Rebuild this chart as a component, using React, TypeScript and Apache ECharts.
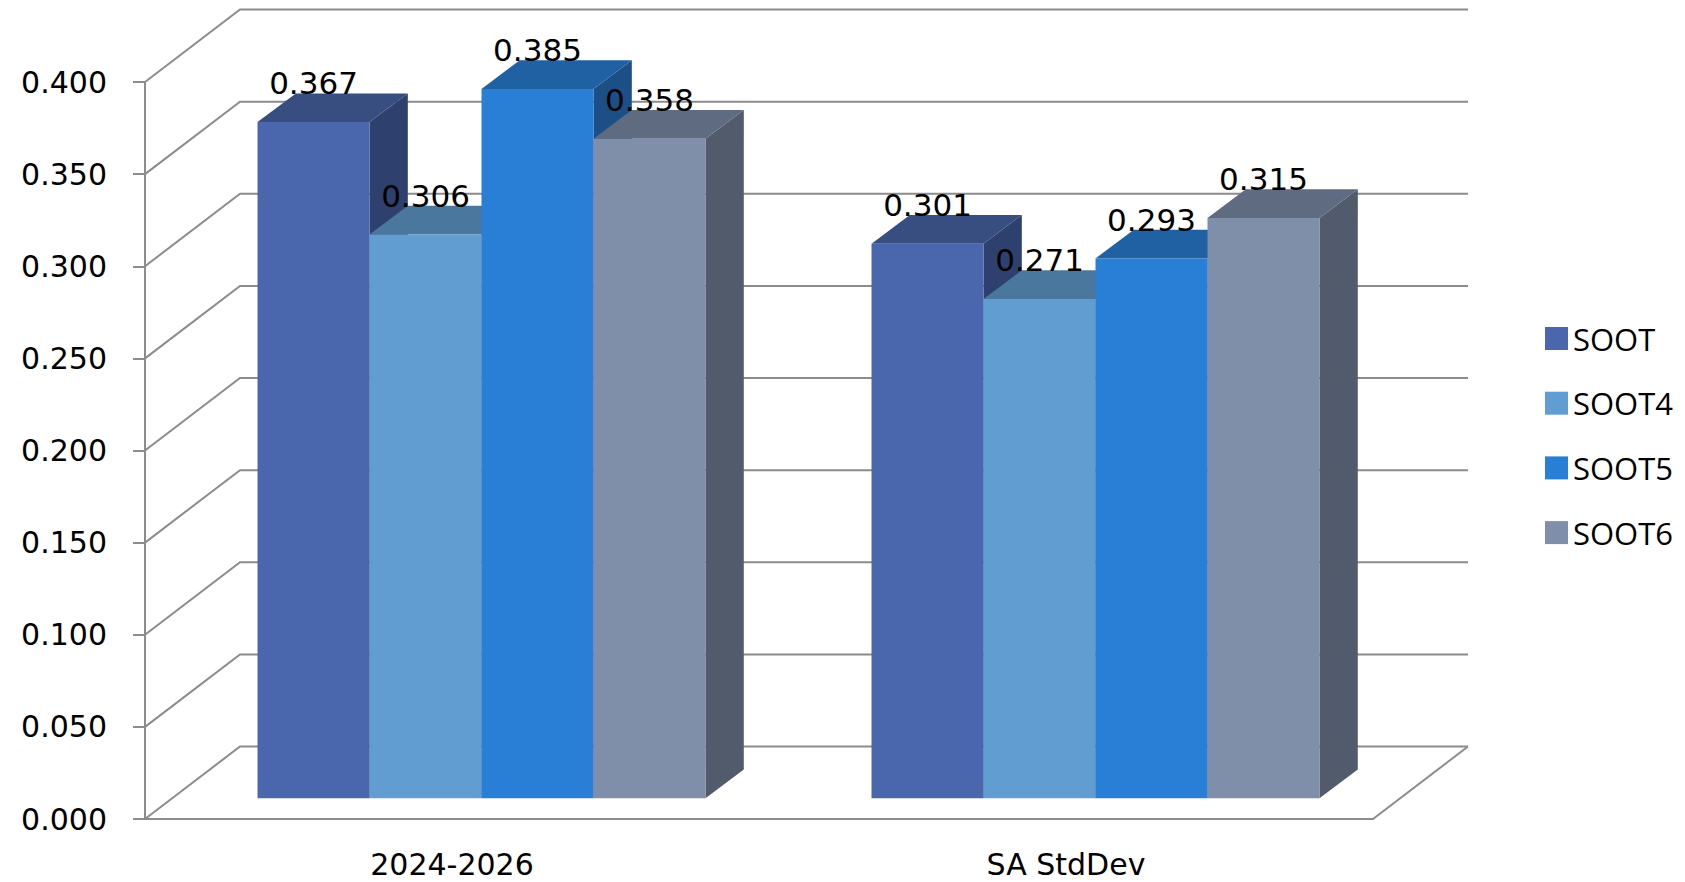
import React, { useEffect, useRef } from "react";
import * as echarts from "echarts";

const categories = ["2024-2026", "SA StdDev"];
const seriesNames = ["SOOT", "SOOT4", "SOOT5", "SOOT6"];
const sootValues = [0.367, 0.301];
const soot4Values = [0.306, 0.271];
const soot5Values = [0.385, 0.293];
const soot6Values = [0.358, 0.315];
const yTicks = [0, 0.05, 0.1, 0.15, 0.2, 0.25, 0.3, 0.35, 0.4];

const frontColors = ["#4A66AC", "#629DD1", "#297FD5", "#7F8FA9"];
const topColors = ["#384E81", "#4A779E", "#2061A3", "#5F6B80"];
const sideColors = ["#2E406E", "#3F6688", "#1B4F86", "#515B6C"];

const WALL_D = [95, -72.5];
const FRONT_OFF = [29.5, -20.7];
const BAR_D = [38.3, -28.7];
const BAR_FRAC = 0.1824;
const GRID_COLOR = "#8C8C8C";
const LABEL_FONT = '31px "DejaVu Sans"';

export default function App() {
  const ref = useRef<HTMLDivElement>(null);
  useEffect(() => {
    if (!ref.current) return;
    const chart = echarts.init(ref.current, null, { renderer: "svg" });
    const allValues = [sootValues, soot4Values, soot5Values, soot6Values];

    const barSeries = allValues.map((vals, si) => ({
      type: "custom",
      name: seriesNames[si],
      z: 2,
      itemStyle: { color: frontColors[si] },
      data: vals.map((v, ci) => [ci, v]),
      renderItem: (params: any, api: any) => {
        const ci = api.value(0);
        const v = api.value(1);
        const top = api.coord([ci, v]);
        const base = api.coord([ci, 0]);
        const catW = api.size([1, 0])[0];
        const bw = catW * BAR_FRAC;
        const x0 = top[0] - 2 * bw + si * bw + FRONT_OFF[0];
        const yT = top[1] + FRONT_OFF[1];
        const yB = base[1] + FRONT_OFF[1];
        const x1 = x0 + bw;
        return {
          type: "group",
          children: [
            {
              type: "polygon",
              shape: {
                points: [
                  [x1, yT],
                  [x1 + BAR_D[0], yT + BAR_D[1]],
                  [x1 + BAR_D[0], yB + BAR_D[1]],
                  [x1, yB],
                ],
              },
              style: { fill: sideColors[si] },
            },
            {
              type: "polygon",
              shape: {
                points: [
                  [x0, yT],
                  [x1, yT],
                  [x1 + BAR_D[0], yT + BAR_D[1]],
                  [x0 + BAR_D[0], yT + BAR_D[1]],
                ],
              },
              style: { fill: topColors[si] },
            },
            {
              type: "rect",
              shape: { x: x0, y: yT, width: bw, height: yB - yT },
              style: { fill: frontColors[si] },
            },
            {
              type: "text",
              z2: 100,
              style: {
                text: v.toFixed(3),
                x: x0 + bw / 2,
                y: yT + BAR_D[1] - 10,
                align: "center",
                verticalAlign: "middle",
                font: LABEL_FONT,
                fill: "#000",
              },
            },
          ],
        };
      },
    }));

    const wallSeries = {
      type: "custom",
      name: "walls",
      z: 0,
      silent: true,
      data: yTicks.map((t) => [0, t]),
      renderItem: (params: any, api: any) => {
        const v = api.value(1);
        const p = api.coord([0, v]);
        const cs = params.coordSys;
        const left = cs.x;
        const right = cs.x + cs.width;
        const y = p[1];
        const children: any[] = [
          {
            type: "polyline",
            shape: {
              points: [
                [left, y],
                [left + WALL_D[0], y + WALL_D[1]],
                [right + WALL_D[0], y + WALL_D[1]],
              ],
            },
            style: { stroke: GRID_COLOR, lineWidth: 2, fill: null },
          },
        ];
        if (v === 0) {
          children.push({
            type: "line",
            shape: { x1: right, y1: y, x2: right + WALL_D[0], y2: y + WALL_D[1] },
            style: { stroke: GRID_COLOR, lineWidth: 2 },
          });
        }
        return { type: "group", children };
      },
    };

    chart.setOption({
      animation: false,
      backgroundColor: "#ffffff",
      color: frontColors,
      grid: { left: 145, top: 82, width: 1228, height: 737, outerBoundsMode: "none" },
      legend: {
        data: seriesNames,
        orient: "vertical",
        left: 1540,
        top: 317,
        icon: "rect",
        itemWidth: 23,
        itemHeight: 23,
        itemGap: 31.7,
        textStyle: {
          fontSize: 31,
          lineHeight: 23,
          fontFamily: "Open Sans",
          color: "#000",
          padding: [0, 0, 10, 0],
        },
      },
      xAxis: {
        type: "category",
        data: categories,
        axisLine: { lineStyle: { color: GRID_COLOR, width: 2 } },
        axisTick: { length: 11, lineStyle: { color: GRID_COLOR, width: 2 } },
        axisLabel: { margin: 30, fontSize: 30, fontFamily: "DejaVu Sans", color: "#000" },
        splitLine: { show: false },
      },
      yAxis: {
        type: "value",
        min: 0,
        max: 0.4,
        interval: 0.05,
        axisLine: { show: true, lineStyle: { color: GRID_COLOR, width: 2 } },
        axisTick: { show: true, length: 12, lineStyle: { color: GRID_COLOR, width: 2 } },
        axisLabel: {
          margin: 38,
          fontSize: 30,
          fontFamily: "DejaVu Sans",
          color: "#000",
          formatter: (v: number) => v.toFixed(3),
        },
        splitLine: { show: false },
      },
      series: [...barSeries, wallSeries],
    });
    return () => chart.dispose();
  }, []);
  return (
    <div
      ref={ref}
      style={{ position: "fixed", left: 0, top: 0, width: 1685, height: 882, background: "#fff" }}
    />
  );
}
